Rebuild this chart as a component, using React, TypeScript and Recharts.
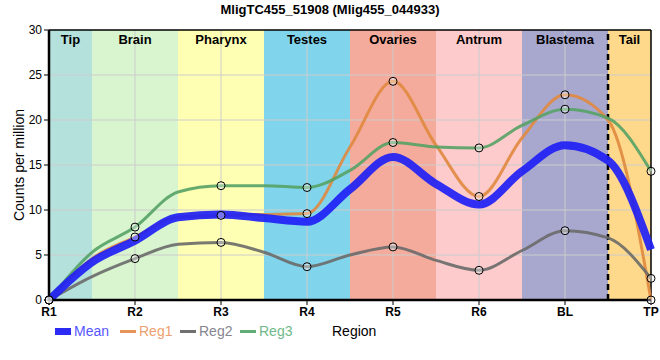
import React from 'react';
import {
  LineChart, Line, XAxis, YAxis, ReferenceArea, ReferenceLine, Label,
} from 'recharts';

// positions along the body axis (half steps are the region boundaries)
const positions = [1, 1.5, 2, 2.5, 3, 3.5, 4, 4.5, 5, 5.5, 6, 6.5, 7, 7.5, 8];
const sampleLabels = ['R1', 'R2', 'R3', 'R4', 'R5', 'R6', 'BL', 'TP'];
const yTicks = [0, 5, 10, 15, 20, 25, 30];

const meanValues = [0, 4.2, 6.6, 9.2, 9.5, 9.1, 8.7, 12.3, 15.9, 12.9, 10.6, 14.3, 17.2, 15.5, 5.6];
const reg1Values = [0, 4.6, 7.0, 9.2, 9.4, 9.5, 9.6, 17.0, 24.3, 17.2, 11.5, 18.0, 22.8, 20.0, 0];
const reg2Values = [0, 2.6, 4.6, 6.2, 6.4, 5.3, 3.7, 5.0, 5.9, 4.4, 3.3, 5.5, 7.7, 6.9, 2.4];
const reg3Values = [0, 5.3, 8.1, 12.0, 12.7, 12.7, 12.5, 14.4, 17.5, 17.0, 16.9, 19.4, 21.2, 20.2, 14.3];

const regionNames = ['Tip', 'Brain', 'Pharynx', 'Testes', 'Ovaries', 'Antrum', 'Blastema', 'Tail'];
const regionStarts = [1, 1.5, 2.5, 3.5, 4.5, 5.5, 6.5, 7.5];
const regionEnds = [1.5, 2.5, 3.5, 4.5, 5.5, 6.5, 7.5, 8];
const regionColors = ['#b4e1dc', '#d8f5cf', '#ffffb4', '#80d5ec', '#f5ab9c', '#fdcbcb', '#a8a8cf', '#ffd98b'];

const tableData = positions.map((x, i) => ({
  x,
  mean: meanValues[i],
  reg1: reg1Values[i],
  reg2: reg2Values[i],
  reg3: reg3Values[i],
}));
const pointData = tableData.filter(d => Number.isInteger(d.x));

const FONT = '"Liberation Sans", Arial, sans-serif';

const legendItems = [
  { name: 'Mean', line: '#2b2bf5', text: '#5656ff', thick: 7, left: 55 },
  { name: 'Reg1', line: '#e8955a', text: '#eea070', thick: 3, left: 120 },
  { name: 'Reg2', line: '#707070', text: '#868690', thick: 3, left: 180 },
  { name: 'Reg3', line: '#62ad76', text: '#6fb98a', thick: 3, left: 240 },
];

const dotShape = (props: any) => {
  const { cx, cy, key } = props;
  if (cx == null || cy == null) return <g key={key} />;
  return <circle key={key} cx={cx} cy={cy} r={4} fill="#ffffff" fillOpacity={0.35} stroke="#000" strokeWidth={1} />;
};

const App: React.FC = () => {
  return (
    <div style={{ position: 'absolute', left: 0, top: 0, width: 660, height: 360, fontFamily: FONT }}>
      <div style={{ position: 'absolute', top: 2, left: 0, width: 660, textAlign: 'center', fontWeight: 'bold', fontSize: 13 }}>
        MligTC455_51908 (Mlig455_044933)
      </div>
      <LineChart width={660} height={360} data={tableData} margin={{ top: 30, right: 9, bottom: 30, left: 0 }}>
        {regionNames.map((name, i) => (
          <ReferenceArea
            key={name}
            x1={regionStarts[i]}
            x2={regionEnds[i]}
            y1={0}
            y2={30}
            fill={regionColors[i]}
            fillOpacity={1}
            stroke="none"
            label={{ value: name, position: 'insideTop', offset: 5, fontWeight: 'bold', fontSize: 13, fill: '#000', fontFamily: FONT }}
          />
        ))}
        {yTicks.slice(1, -1).map(v => (
          <ReferenceLine key={'gy' + v} y={v} stroke="#cccccc" strokeWidth={1} />
        ))}
        {[2, 3, 4, 5, 6, 7].map(v => (
          <ReferenceLine key={'gx' + v} x={v} stroke="#cccccc" strokeWidth={1} />
        ))}
        <ReferenceLine x={7.5} stroke="#000" strokeWidth={2.5} strokeDasharray="6 4" />
        <ReferenceLine y={30} stroke="#000" strokeWidth={1.5} />
        <ReferenceLine x={8} stroke="#000" strokeWidth={1.5} />
        <XAxis
          dataKey="x"
          type="number"
          domain={[1, 8]}
          ticks={[1, 2, 3, 4, 5, 6, 7, 8]}
          tickFormatter={(v: number) => sampleLabels[v - 1]}
          height={30}
          axisLine={{ stroke: '#000', strokeWidth: 2.5 }}
          tickLine={{ stroke: '#000' }}
          tickSize={5}
          tickMargin={2}
          tick={{ fill: '#000', fontSize: 12, fontWeight: 'bold', fontFamily: FONT }}
        />
        <YAxis
          type="number"
          domain={[0, 30]}
          ticks={yTicks}
          width={49}
          axisLine={{ stroke: '#000', strokeWidth: 2.5 }}
          tickLine={{ stroke: '#000' }}
          tickSize={5}
          tickMargin={2}
          tick={{ fill: '#000', fontSize: 12, fontFamily: FONT }}
        >
          <Label
            content={() => (
              <text x={24} y={165} transform="rotate(-90 24 165)" textAnchor="middle" fontSize={14} fontFamily={FONT} fill="#000">
                Counts per million
              </text>
            )}
          />
        </YAxis>
        <Line type="monotone" dataKey="reg1" stroke="#e0883f" strokeOpacity={0.9} strokeWidth={3} dot={false} isAnimationActive={false} />
        <Line type="monotone" dataKey="reg2" stroke="#6a6a6a" strokeOpacity={0.9} strokeWidth={3} dot={false} isAnimationActive={false} />
        <Line type="monotone" dataKey="reg3" stroke="#55a265" strokeOpacity={0.9} strokeWidth={3} dot={false} isAnimationActive={false} />
        <Line type="monotone" dataKey="mean" stroke="#1f1ff5" strokeOpacity={0.92} strokeWidth={8} dot={false} isAnimationActive={false} />
        <Line data={pointData} dataKey="reg1" stroke="none" dot={dotShape} isAnimationActive={false} legendType="none" />
        <Line data={pointData} dataKey="reg2" stroke="none" dot={dotShape} isAnimationActive={false} legendType="none" />
        <Line data={pointData} dataKey="reg3" stroke="none" dot={dotShape} isAnimationActive={false} legendType="none" />
      </LineChart>
      {legendItems.map(item => (
        <div key={item.name} style={{ position: 'absolute', left: item.left, top: 322, height: 18, display: 'flex', alignItems: 'center' }}>
          <span style={{ display: 'inline-block', width: 16, height: item.thick, background: item.line, marginRight: 3 }} />
          <span style={{ color: item.text, fontSize: 14 }}>{item.name}</span>
        </div>
      ))}
      <div style={{ position: 'absolute', left: 332, top: 322, height: 18, display: 'flex', alignItems: 'center', fontSize: 14, color: '#000' }}>
        Region
      </div>
    </div>
  );
};

export default App;
